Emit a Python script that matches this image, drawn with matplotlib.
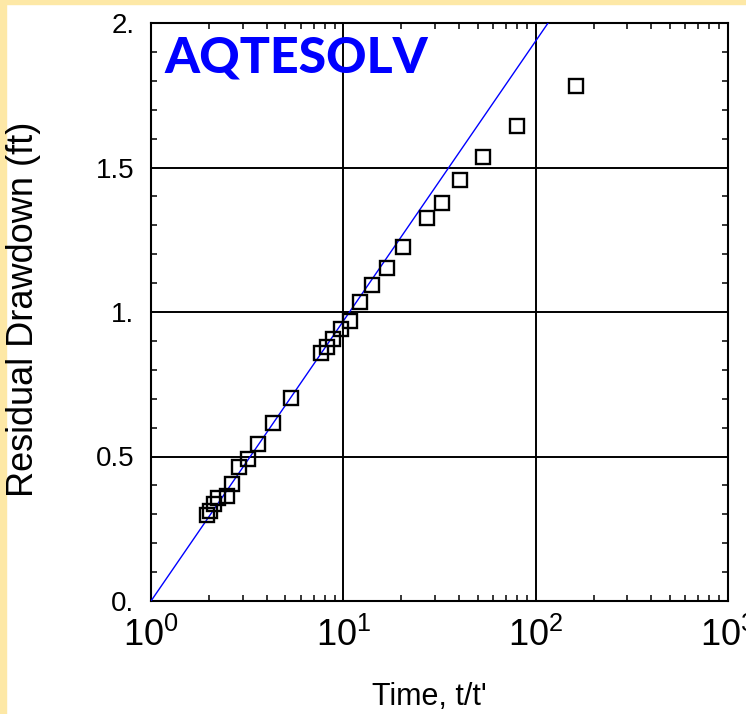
import matplotlib
matplotlib.use('Agg')
import matplotlib.pyplot as plt
from matplotlib.patches import Rectangle
from matplotlib.ticker import MultipleLocator, LogLocator, NullFormatter

plt.rcParams['font.family'] = ['Liberation Sans', 'DejaVu Sans']
plt.rcParams['mathtext.default'] = 'regular'

# recovery data: t/t' vs residual drawdown (ft)
t_ratio = [1.95, 2.03, 2.13, 2.23, 2.48, 2.65, 2.88, 3.18, 3.59, 4.29, 5.35,
           7.63, 8.20, 8.81, 9.73, 10.8, 12.2, 14.1, 16.9, 20.5, 27.1, 32.5,
           40.4, 53.4, 79.7, 162.0]
drawdown = [0.296, 0.313, 0.336, 0.355, 0.363, 0.405, 0.464, 0.491, 0.543,
            0.615, 0.703, 0.857, 0.880, 0.907, 0.941, 0.970, 1.036, 1.093,
            1.151, 1.224, 1.325, 1.376, 1.456, 1.535, 1.644, 1.782]

# straight-line fit
fit_t = [1.0, 116.0]
fit_s = [0.0, 2.0]

x_ticks = [1, 10, 100, 1000]
x_labels = ['$10^{0}$', '$10^{1}$', '$10^{2}$', '$10^{3}$']
y_ticks = [0.0, 0.5, 1.0, 1.5, 2.0]
y_labels = ['0.', '0.5', '1.', '1.5', '2.']

W, H = 746, 714
fig = plt.figure(figsize=(W / 100, H / 100), dpi=100, facecolor='white')
yellow = '#fde8a6'
fig.patches.append(Rectangle((0, 0), 6 / W, 1, transform=fig.transFigure,
                             color=yellow, zorder=-1))
fig.patches.append(Rectangle((0, 1 - 4 / H), 1, 4 / H, transform=fig.transFigure,
                             color=yellow, zorder=-1))

ax = fig.add_axes([151 / W, 1 - 601 / H, 577 / W, 578 / H])
ax.set_xscale('log')
ax.set_xlim(1, 1000)
ax.set_ylim(0, 2)

ax.plot(fit_t, fit_s, color='#0000ff', lw=1.0, zorder=3)
ax.plot(t_ratio, drawdown, ls='none', marker='s', ms=10, mfc='none',
        mec='black', mew=1.7, zorder=4, clip_on=False)

ax.set_xticks(x_ticks)
ax.set_xticklabels(x_labels, fontsize=26)
ax.xaxis.set_minor_locator(LogLocator(base=10, subs=range(2, 10)))
ax.xaxis.set_minor_formatter(NullFormatter())
ax.set_yticks(y_ticks)
ax.set_yticklabels(y_labels, fontsize=20)
ax.yaxis.set_minor_locator(MultipleLocator(0.1))

ax.tick_params(which='both', direction='in', top=True, right=True, color='black')
ax.tick_params(which='major', length=0)
ax.tick_params(axis='y', which='major', pad=12)
ax.tick_params(axis='x', which='major', pad=12)
ax.tick_params(which='minor', length=4.5, width=1.1)

ax.grid(True, which='major', color='black', lw=1.4)
for sp in ax.spines.values():
    sp.set_linewidth(1.5)

ax.set_xlabel("Time, t/t'", fontsize=22)
ax.xaxis.set_label_coords(0.482, -0.14)
ax.set_ylabel('Residual Drawdown (ft)', fontsize=26)
ax.yaxis.set_label_coords(-0.19, 0.505)

ax.text(0.024, 0.978, 'AQTESOLV', transform=ax.transAxes, ha='left', va='top',
        fontsize=36, fontweight='black', color='#0000ff',
        family=['Lato', 'DejaVu Sans'])

fig.savefig('out.png', dpi=100, facecolor=fig.get_facecolor())
